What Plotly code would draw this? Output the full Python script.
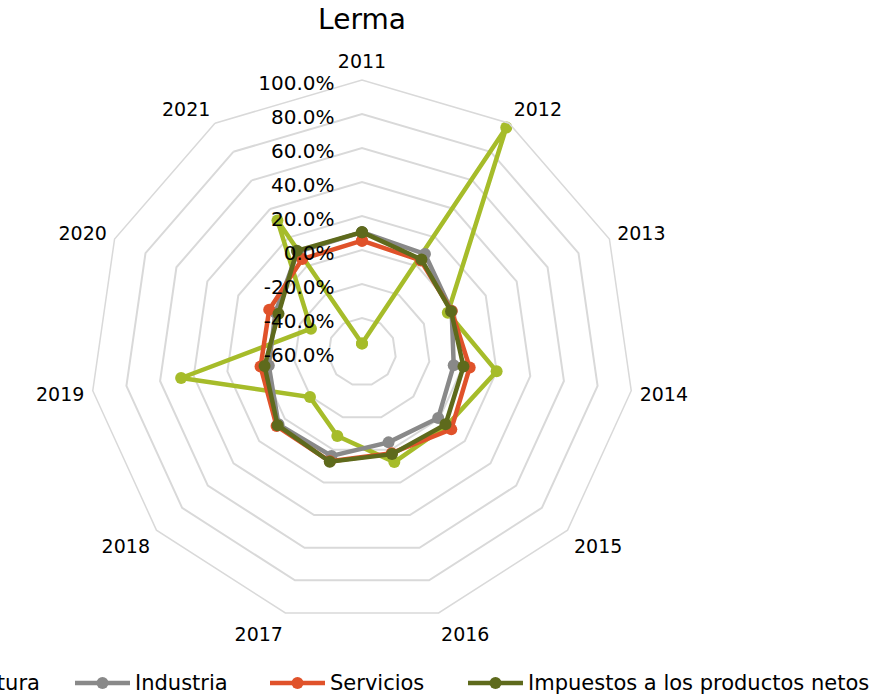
import plotly.graph_objects as go

W, H = 878, 700

years = ['2011', '2012', '2013', '2014', '2015', '2016', '2017', '2018', '2019', '2020', '2021']
agricultura = [-0.55, 0.97, -0.045, 0.20, 0.06, 0.075, -0.085, -0.195, 0.475, -0.27, 0.32]
industria = [0.105, 0.085, -0.02, -0.055, -0.007, -0.046, 0.037, 0.05, -0.046, -0.04, 0.10]
servicios = [0.055, 0.04, -0.02, 0.04, 0.095, 0.02, 0.07, 0.065, 0.003, 0.0, 0.05]
impuestos = [0.105, 0.047, -0.024, 0.003, 0.05, 0.026, 0.073, 0.057, -0.021, -0.06, 0.108]

tick_values = [-0.6, -0.4, -0.2, 0.0, 0.2, 0.4, 0.6, 0.8, 1.0]
tick_labels = ['-60.0%', '-40.0%', '-20.0%', '0.0%', '20.0%', '40.0%', '60.0%', '80.0%', '100.0%']

series_names = ['Agricultura', 'Industria', 'Servicios', 'Impuestos a los productos netos']
series_values = [agricultura, industria, servicios, impuestos]
series_colors = ['#A6BC2A', '#898989', '#E0522A', '#5E6A1C']

FONT = 'DejaVu Sans'
CLEAR = 'rgba(0,0,0,0)'

# The radar's centre is the axis minimum (-60 %); radii are measured from it
# (Plotly's polygon grid hides markers when the radial range starts below zero).
base = tick_values[0]
r_range = [0, tick_values[-1] - base]
r_ticks = [t - base for t in tick_values]

fig = go.Figure()
for name, vals, col in zip(series_names, series_values, series_colors):
    rr_vals = [v - base for v in vals]
    fig.add_trace(go.Scatterpolar(
        r=rr_vals + [rr_vals[0]],
        theta=years + [years[0]],
        mode='lines+markers',
        name=name,
        line=dict(color=col, width=4.5),
        marker=dict(color=col, size=12),
        customdata=vals + [vals[0]],
        hovertemplate='%{theta}: %{customdata:.1%}<extra>' + name + '</extra>',
        showlegend=False,
    ))

# polar geometry (pixels)
cx, cy, R = 362, 352, 272
dom_x = [(cx - R) / W, (cx + R) / W]
dom_y = [(H - (cy + R)) / H, (H - (cy - R)) / H]

fig.update_layout(
    width=W, height=H,
    margin=dict(l=0, r=0, t=0, b=0),
    paper_bgcolor='white',
    plot_bgcolor='white',
    font=dict(family=FONT, color='black', size=19),
    title=dict(text='Lerma', x=362 / W, xanchor='center', y=1 - 19 / H, yanchor='middle',
               font=dict(family=FONT, size=28, color='black')),
    polar=dict(
        domain=dict(x=dom_x, y=dom_y),
        bgcolor='white',
        gridshape='linear',
        radialaxis=dict(
            range=r_range, tickmode='array', tickvals=r_ticks, ticktext=tick_labels,
            angle=90, side='counterclockwise', showline=False,
            ticks='outside', ticklen=9, tickcolor=CLEAR,
            gridcolor='#D9D9D9', gridwidth=1.5,
            tickfont=dict(family=FONT, size=20, color='black'),
        ),
        angularaxis=dict(
            type='category', categoryarray=years, categoryorder='array',
            rotation=90, direction='clockwise', showgrid=False,
            showline=True, linecolor='#D9D9D9', linewidth=1.5,
            ticks='outside', ticklen=4, tickcolor=CLEAR,
            tickfont=dict(family=FONT, size=19, color='black'),
        ),
    ),
    showlegend=False,
)

# manual legend (bottom, starts off the left edge as in the reference)
leg_y_px = 683
leg_items = [(-136, -81), (75, 130), (270, 325), (468, 523)]
shapes = []
annotations = []
for (x0, x1), name, col in zip(leg_items, series_names, series_colors):
    yp = 1 - leg_y_px / H
    shapes.append(dict(type='line', xref='paper', yref='paper', x0=x0 / W, x1=x1 / W,
                       y0=yp, y1=yp, line=dict(color=col, width=4.5)))
    mx = (x0 + x1) / 2
    rr = 6
    shapes.append(dict(type='circle', xref='paper', yref='paper',
                       x0=(mx - rr) / W, x1=(mx + rr) / W,
                       y0=yp - rr / H, y1=yp + rr / H,
                       fillcolor=col, line=dict(color=col, width=0)))
    annotations.append(dict(text=name, xref='paper', yref='paper', x=(x1 + 3) / W, y=yp,
                            xanchor='left', yanchor='middle', showarrow=False,
                            font=dict(family=FONT, size=21, color='black')))
fig.update_layout(shapes=shapes, annotations=annotations)

fig.write_html('out.html', config={'displayModeBar': False},
               post_script="document.body.style.margin='0';document.body.style.overflow='hidden';")
